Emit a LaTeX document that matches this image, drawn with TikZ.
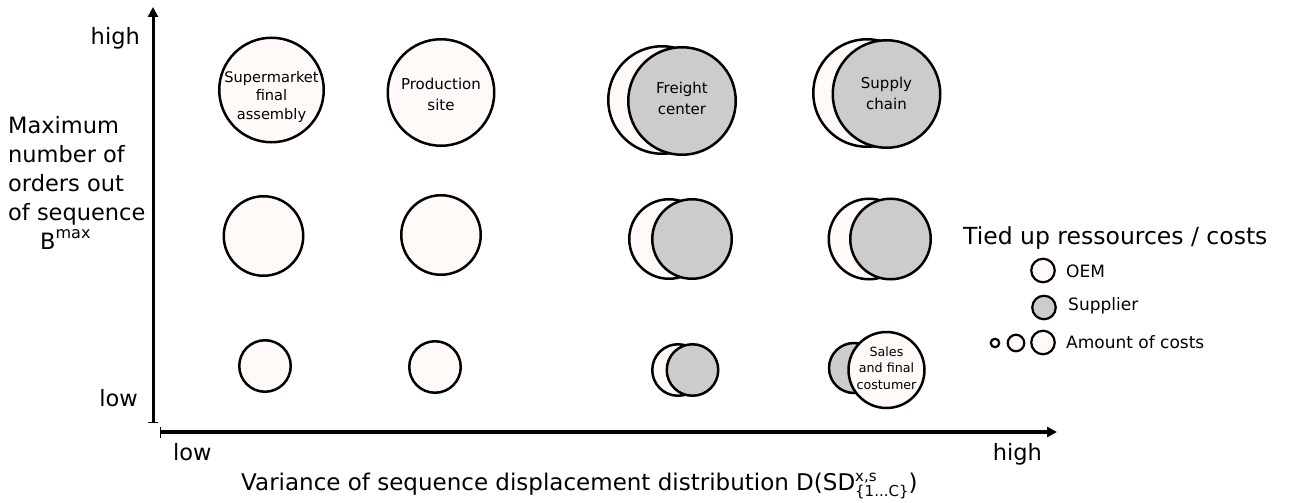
\documentclass[tikz,border=0pt]{standalone}
\usepackage{fontspec}
\setmainfont{DejaVu Sans}
\usetikzlibrary{arrows.meta}
\definecolor{oemfill}{RGB}{255,250,248}
\definecolor{supfill}{RGB}{204,204,204}
\begin{document}
\begin{tikzpicture}[x=1pt,y=-1pt,
  oem/.style={circle,draw=black,line width=2.5pt,fill=oemfill,inner sep=0pt,minimum size=#1},
  sup/.style={circle,draw=black,line width=2.5pt,fill=supfill,inner sep=0pt,minimum size=#1},
  loem/.style={circle,draw=black,line width=2.2pt,fill=oemfill,inner sep=0pt,minimum size=#1},
  lsup/.style={circle,draw=black,line width=2.2pt,fill=supfill,inner sep=0pt,minimum size=#1},
  axlbl/.style={inner sep=0pt,font=\fontsize{22.5}{29}\selectfont},
  ctext/.style={inner sep=0pt,align=center,font=\fontsize{15}{21}\selectfont},
  legtext/.style={inner sep=0pt,anchor=base west,font=\fontsize{17}{20}\selectfont},
  axisline/.style={draw=black}
]
\useasboundingbox (0,0) rectangle (1299,503);

% axes
\coordinate (yb) at (153,423);
\coordinate (yt) at (153,7);
\coordinate (xb) at (160,432);
\coordinate (xt) at (1057,432);
\draw[axisline,line width=3pt,{Bar[width=10pt,line width=1.4pt]}-{Triangle[width=10pt,length=10pt]}] (yb) -- (yt);
\draw[axisline,line width=3.5pt,{Bar[width=11pt,line width=1.4pt]}-{Triangle[width=10pt,length=10pt]}] (xb) -- (xt);

% axis labels
\node[axlbl,anchor=base east] (yhigh) at (140,45) {high};
\node[axlbl,anchor=base east] (ylow) at (138,406) {low};
\node[axlbl,anchor=north west,align=left] (ytitle) at (8,116)
  {Maximum\\number of\\orders out\\of sequence\\\hspace*{32pt}B\raisebox{11pt}{\fontsize{16}{16}\selectfont max}};
\node[axlbl,anchor=base west] (xlow) at (173,460) {low};
\node[axlbl,anchor=base east] (xhigh) at (1042,460) {high};
\node[axlbl,anchor=base west,font=\fontsize{23}{28}\selectfont] (xtitle) at (241,490)
  {Variance of sequence displacement distribution D(SD\rlap{\raisebox{9pt}{\fontsize{15}{15}\selectfont x,s}}\raisebox{-6pt}{\fontsize{15}{15}\selectfont\{1...C\}})};

% top row
\node[oem=104.5] (a1) at (271.5,90) {};
\node[oem=106.5] (a2) at (441,92.5) {};
\node[oem=107.5] (a3w) at (662,100) {};
\node[sup=107.5] (a3g) at (682,101) {};
\node[oem=107.5] (a4w) at (867,93) {};
\node[sup=107.5] (a4g) at (886.5,94) {};
% middle row
\node[oem=79.5] (b1) at (263.5,236) {};
\node[oem=79.5] (b2) at (441,235) {};
\node[oem=79.5] (b3w) at (669,239) {};
\node[sup=79.5] (b3g) at (692,239) {};
\node[oem=80.5] (b4w) at (869,239) {};
\node[sup=80.5] (b4g) at (890.5,239) {};
% bottom row
\node[oem=51.5] (c1) at (265,366) {};
\node[oem=51.5] (c2) at (435,367) {};
\node[oem=51.5] (c3w) at (678,370) {};
\node[sup=51.5] (c3g) at (692.5,370) {};
\node[sup=50] (c4g) at (854,368) {};
\node[oem=76] (c4w) at (886.5,370) {};

% circle texts
\node[ctext,font=\fontsize{14.6}{18.5}\selectfont] (t1) at (271.5,96.5) {Supermarket\\final\\assembly};
\node[ctext] (t2) at (441,94) {Production\\site};
\node[ctext] (t3) at (682,98.5) {Freight\\center};
\node[ctext] (t4) at (886.5,93) {Supply\\chain};
\node[ctext,font=\fontsize{12.7}{16.7}\selectfont] (t5) at (886.5,368) {Sales\\and final\\costumer};

% legend
\node[inner sep=0pt,anchor=base west,font=\fontsize{23.5}{28}\selectfont] (legtitle) at (963,244) {Tied up ressources / costs};
\node[loem=23.5] (lo) at (1043,270.5) {};
\node[legtext] (lot) at (1066,277) {OEM};
\node[lsup=23.5] (ls) at (1044,307.5) {};
\node[legtext] (lst) at (1068,310) {Supplier};
\node[loem=8.5] (lc1) at (995,343) {};
\node[loem=16.5] (lc2) at (1016,343) {};
\node[loem=23.5] (lc3) at (1043,342.5) {};
\node[legtext] (lct) at (1066,348) {Amount of costs};
\end{tikzpicture}
\end{document}
